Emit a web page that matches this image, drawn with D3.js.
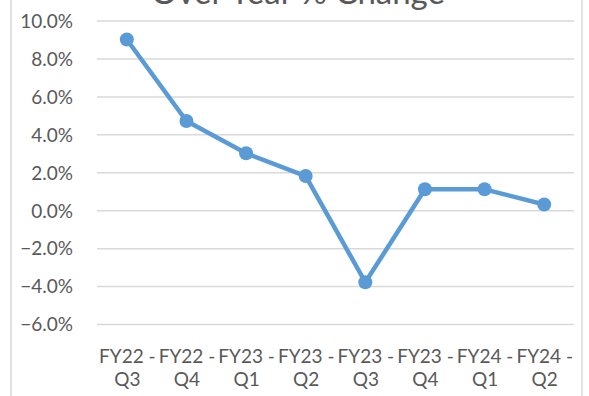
<!DOCTYPE html>
<html>
<head>
<meta charset="utf-8">
<script src="https://cdn.jsdelivr.net/npm/d3@7/dist/d3.min.js"></script>
<style>
  html, body { margin: 0; padding: 0; background: #fff; }
  svg { display: block; }
  text { font-family: Lato, "Open Sans", sans-serif; fill: #595959; }
</style>
</head>
<body>
<svg id="chart" width="589" height="396"></svg>
<script>
// Year-over-year % change by fiscal quarter
const categories = ["FY22 - Q3", "FY22 - Q4", "FY23 - Q1", "FY23 - Q2",
                    "FY23 - Q3", "FY23 - Q4", "FY24 - Q1", "FY24 - Q2"];
const changePct = [9.0, 4.7, 3.0, 1.8, -3.8, 1.1, 1.1, 0.3];
const yTicks = [-6, -4, -2, 0, 2, 4, 6, 8, 10];
const title = "Over Year % Change";

const svg = d3.select("#chart");
const W = 589, H = 396;

const plot = { left: 97, right: 574, top: 20.5, bottom: 324 };

const x = d3.scalePoint()
  .domain(categories)
  .range([plot.left, plot.right])
  .padding(0.5);

const y = d3.scaleLinear()
  .domain([-6, 10])
  .range([plot.bottom, plot.top]);

// chart area frame (left/right edges visible)
svg.append("line").attr("x1", 11).attr("x2", 11).attr("y1", 0).attr("y2", H)
  .attr("stroke", "#d9d9d9").attr("stroke-width", 1.5);
svg.append("line").attr("x1", 582).attr("x2", 582).attr("y1", 0).attr("y2", H)
  .attr("stroke", "#d9d9d9").attr("stroke-width", 1.5);

// title (sits partly above the top edge of the chart area)
svg.append("text")
  .attr("x", 298).attr("y", 4)
  .attr("text-anchor", "middle")
  .style("font-size", "33px")
  .text(title);

// horizontal gridlines + y axis labels
const yAxis = d3.axisLeft(y)
  .tickValues(yTicks)
  .tickSize(-(plot.right - plot.left))
  .tickPadding(24)
  .tickFormat(d => d3.format(".1f")(d) + "%");

const gy = svg.append("g")
  .attr("transform", `translate(${plot.left},0)`)
  .call(yAxis);
gy.select(".domain").remove();
gy.selectAll(".tick line").attr("stroke", "#d9d9d9").attr("stroke-width", 1.5);
gy.selectAll(".tick text")
  .attr("fill", "#595959")
  .style("font-size", "19px")
  .style("font-family", "Lato, 'Open Sans', sans-serif")
  .attr("dy", "0.36em");

// category labels, wrapped onto two lines
const xAxis = d3.axisBottom(x).tickSize(0).tickFormat("");
const gx = svg.append("g")
  .attr("transform", `translate(0,${plot.bottom})`)
  .call(xAxis);
gx.select(".domain").remove();
gx.selectAll(".tick").each(function(d) {
  const parts = d.split(" - ");
  const t = d3.select(this).append("text")
    .attr("text-anchor", "middle")
    .style("font-size", "19px");
  t.append("tspan").attr("x", 0).attr("y", 39).text(parts[0] + " -");
  t.append("tspan").attr("x", 0).attr("y", 62).text(parts[1]);
});

// series line
const line = d3.line()
  .x((d, i) => x(categories[i]))
  .y(d => y(d));

svg.append("path")
  .datum(changePct)
  .attr("fill", "none")
  .attr("stroke", "#5B9BD5")
  .attr("stroke-width", 4.5)
  .attr("stroke-linejoin", "round")
  .attr("d", line);

svg.append("g").selectAll("circle")
  .data(changePct)
  .join("circle")
  .attr("cx", (d, i) => x(categories[i]))
  .attr("cy", d => y(d))
  .attr("r", 7)
  .attr("fill", "#5B9BD5");
</script>
</body>
</html>
